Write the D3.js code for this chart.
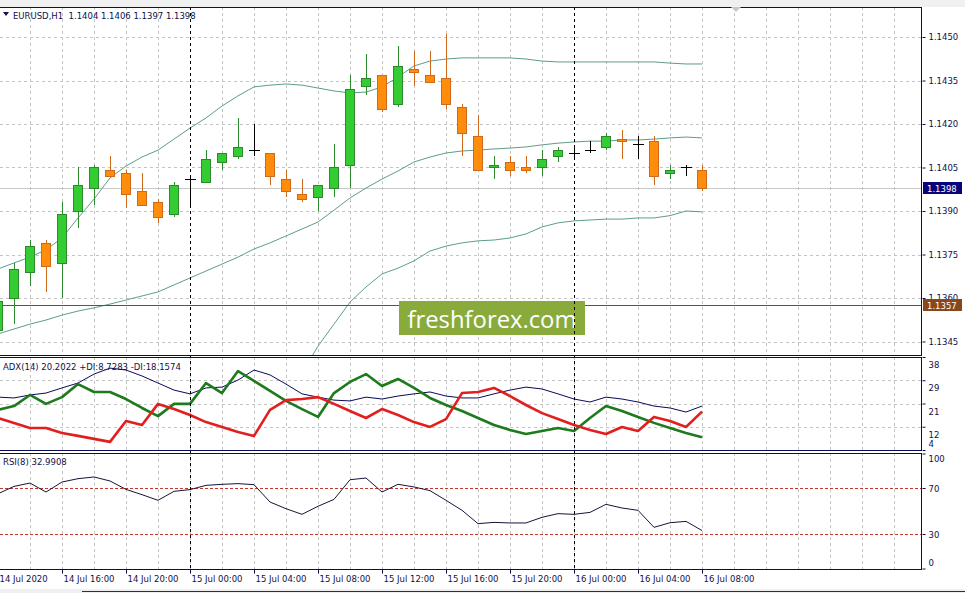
<!DOCTYPE html>
<html><head><meta charset="utf-8">
<script src="https://cdn.jsdelivr.net/npm/d3@7/dist/d3.min.js"></script>
<style>
body{margin:0;background:#fff;overflow:hidden}
svg text{font-family:"DejaVu Sans",sans-serif;font-size:8.5px;white-space:pre}
</style>
</head><body>
<svg id="c" width="965" height="593"></svg>
<script>
// ---------------- DATA (EURUSD H1, bars from 14 Jul 2020 12:00) ----------------
const opens  = [1.1349,1.1360,1.1369,1.1379,1.1372,1.1390,1.1398,1.1404,1.1403,1.1397,1.1393,1.1389,1.1401,1.1400,1.1407,1.1409,1.1411,1.1410,1.1401,1.1396,1.1395,1.1398,1.1406,1.1433,1.1437,1.1427,1.1439,1.1437,1.1436,1.1426,1.1416,1.1405,1.1407,1.1405,1.1405,1.1409,1.1410,1.1411,1.1412,1.1415,1.1413,1.1414,1.1403,1.1405,1.1404];
const highs  = [1.1360,1.1372,1.1380,1.1380,1.1393,1.1405,1.1406,1.1409,1.1404,1.1403,1.1394,1.1400,1.1402,1.1411,1.1410,1.1422,1.1420,1.1410,1.1404,1.1401,1.1399,1.1413,1.1437,1.1444,1.1437,1.1447,1.1445,1.1445,1.1451,1.1427,1.1423,1.1409,1.1409,1.1409,1.1411,1.1412,1.1412,1.1414,1.1417,1.1418,1.1416,1.1416,1.1406,1.1406,1.1406];
const lows   = [1.1348,1.1351,1.1364,1.1362,1.1360,1.1384,1.1392,1.1402,1.1391,1.1392,1.1386,1.1388,1.1391,1.1400,1.1404,1.1408,1.1409,1.1399,1.1395,1.1393,1.1390,1.1395,1.1398,1.1430,1.1424,1.1426,1.1433,1.1434,1.1425,1.1409,1.1404,1.1401,1.1402,1.1403,1.1402,1.1407,1.1408,1.1410,1.1411,1.1408,1.1408,1.1399,1.1401,1.1402,1.1397];
const closes = [1.1359,1.1370,1.1378,1.1371,1.1389,1.1399,1.1405,1.1402,1.1396,1.1392,1.1388,1.1399,1.1401,1.1408,1.1410,1.1412,1.1411,1.1402,1.1397,1.1394,1.1399,1.1405,1.1432,1.1436,1.1425,1.1440,1.1438,1.14345,1.1427,1.1417,1.1404,1.1406,1.1404,1.1404,1.1408,1.1411,1.1410,1.1411,1.1416,1.1414,1.1413,1.1402,1.1404,1.1405,1.1398];

const bbUpper  = [1.13700,1.13721,1.13741,1.13766,1.13807,1.13876,1.13941,1.14014,1.14055,1.14086,1.14110,1.14148,1.14186,1.14221,1.14262,1.14297,1.14328,1.14334,1.14338,1.14334,1.14324,1.14314,1.14307,1.14310,1.14328,1.14362,1.14400,1.14417,1.14424,1.14428,1.14428,1.14428,1.14428,1.14424,1.14417,1.14414,1.14414,1.14414,1.14414,1.14414,1.14414,1.14414,1.14410,1.14407,1.14407];
const bbMiddle = [1.13476,1.13493,1.13510,1.13524,1.13541,1.13555,1.13566,1.13579,1.13593,1.13607,1.13621,1.13645,1.13669,1.13693,1.13717,1.13741,1.13769,1.13790,1.13814,1.13838,1.13862,1.13903,1.13945,1.13979,1.14010,1.14038,1.14069,1.14086,1.14100,1.14107,1.14110,1.14114,1.14117,1.14121,1.14128,1.14134,1.14138,1.14141,1.14141,1.14145,1.14145,1.14148,1.14152,1.14155,1.14152];
const bbLower  = [1.13252,1.13265,1.13279,1.13282,1.13275,1.13234,1.13191,1.13144,1.13131,1.13128,1.13132,1.13142,1.13152,1.13165,1.13172,1.13185,1.13210,1.13246,1.13290,1.13342,1.13434,1.13510,1.13586,1.13638,1.13683,1.13703,1.13728,1.13762,1.13779,1.13790,1.13797,1.13800,1.13807,1.13821,1.13845,1.13859,1.13866,1.13869,1.13872,1.13872,1.13876,1.13876,1.13884,1.13900,1.13897];

const adxMain = [23.5,23.2,24.3,25.0,26.9,28.7,32.0,34.2,33.5,31.3,28.7,26.1,24.7,26.9,27.2,29.8,33.5,31.7,28.3,24.7,23.5,22.4,22.1,23.5,22.8,23.9,24.7,25.4,23.9,23.2,23.2,24.7,26.1,27.2,26.5,24.7,22.8,21.7,23.5,22.8,21.7,20.2,19.5,18.0,20.2022];
const plusDI  = [18.8,20.2,24.3,21.0,23.5,28.3,25.4,25.4,22.8,19.5,16.5,21.0,21.0,28.7,25.0,33.1,29.5,25.8,22.1,19.1,16.2,25.0,29.1,32.0,27.6,30.2,26.9,23.2,20.6,18.4,15.8,13.2,11.4,9.9,11.0,12.1,11.0,15.8,20.2,18.4,16.2,14.0,12.1,10.3,8.7283];
const minusDI = [15.8,14.0,12.1,12.1,10.3,9.2,8.1,7.0,14.7,13.2,21.0,19.1,16.9,14.3,12.5,10.6,9.2,18.8,22.4,22.8,23.5,21.0,18.4,15.8,19.1,16.9,14.3,12.5,15.4,25.0,25.4,26.9,23.9,20.6,17.6,15.4,13.2,11.4,9.9,12.5,11.0,16.2,14.7,12.5,18.1574];

const rsiValues = [65.0,71.4,74.3,66.5,75.2,78.1,79.6,76.1,68.8,64.2,59.3,67.1,68.6,72.3,73.2,73.8,72.9,57.8,52.0,47.1,54.1,60.1,77.2,78.7,66.5,73.2,70.9,67.7,59.3,50.6,39.0,40.1,39.6,39.6,44.5,47.7,47.1,48.8,55.8,52.6,50.6,35.8,39.8,41.0,32.9908];

const priceTicks  = [1.1450,1.1435,1.1420,1.1405,1.1390,1.1375,1.1360,1.1345];
const adxTicks    = [38.3,29.73,21.15,12.58,4.0];
const rsiTicks    = [100,70,30,0];
const rsiLevels   = [70,30];
const xTickLabels = ["14 Jul 2020","14 Jul 16:00","14 Jul 20:00","15 Jul 00:00","15 Jul 04:00","15 Jul 08:00","15 Jul 12:00","15 Jul 16:00","15 Jul 20:00","16 Jul 00:00","16 Jul 04:00","16 Jul 08:00"];
const bidPrice    = 1.1398;
const hLinePrice  = 1.13577;
const headerText  = "EURUSD,H1\u00a0\u00a01.1404 1.1406 1.1397 1.1398";
const adxLabel    = "ADX(14) 20.2022 +DI:8.7283 -DI:18.1574";
const rsiLabel    = "RSI(8) 32.9908";
const watermark   = "freshforex.com";

// ---------------- LAYOUT ----------------
const svg = d3.select("#c");
const textCol = "#10104a", frameCol = "#0c0c55", gridCol = "#c4c4c4";
const R = 922;
const P = {main:[7,355], adx:[357,450], rsi:[453,569]};

const t0 = Date.UTC(2020,6,14,12), HR = 3600e3;
const times = opens.map((_,i)=>new Date(t0+i*HR));
const x = d3.scaleUtc().domain([times[0], times[times.length-1]]).range([-2,702]);
const yMain = d3.scaleLinear().domain([1.1345,1.1450]).range([341.5,37]);
const yAdx  = d3.scaleLinear().domain([4,38.3]).range([450,357]);
const yRsi  = d3.scaleLinear().domain([0,100]).range([568.5,453.5]);
const px = d => Math.round(x(d));

// top / bottom strips
svg.append("rect").attr("x",0).attr("y",0).attr("width",965).attr("height",7).attr("fill","#f0f0f0");
svg.append("rect").attr("x",0).attr("y",589).attr("width",965).attr("height",4).attr("fill","#f0f0f0");
svg.append("line").attr("x1",82).attr("x2",965).attr("y1",591.5).attr("y2",591.5).attr("stroke","#303030");

// clip paths
const defs = svg.append("defs");
Object.entries(P).forEach(([k,[a,b]])=>{
  defs.append("clipPath").attr("id","clip-"+k).append("rect").attr("x",0).attr("y",a).attr("width",R).attr("height",b-a);
});

const gridTimes = d3.utcHour.every(2).range(times[0], new Date(t0+58*HR));
const dayTimes = d3.utcDay.range(times[0], new Date(t0+58*HR));

function panelBase(key){
  const [a,b] = P[key];
  const g = svg.append("g").attr("clip-path","url(#clip-"+key+")");
  g.selectAll(".vg").data(gridTimes).join("line")
    .attr("x1",d=>px(d)+0.5).attr("x2",d=>px(d)+0.5).attr("y1",a).attr("y2",b)
    .attr("stroke",gridCol).attr("stroke-dasharray","3,3");
  return g;
}

// ---- main panel ----
const gm = panelBase("main");
gm.selectAll(".hg").data(priceTicks).join("line")
  .attr("x1",0).attr("x2",R).attr("y1",d=>Math.round(yMain(d))+0.5).attr("y2",d=>Math.round(yMain(d))+0.5)
  .attr("stroke",gridCol).attr("stroke-dasharray","3,3");
gm.append("line").attr("x1",0).attr("x2",R).attr("y1",Math.round(yMain(bidPrice))+0.5).attr("y2",Math.round(yMain(bidPrice))+0.5)
  .attr("stroke","#c8c8c8");
[bbUpper,bbMiddle,bbLower].forEach(arr=>{
  gm.append("path").datum(arr)
    .attr("d",d3.line().x((d,i)=>x(times[i])).y(d=>yMain(d)))
    .attr("fill","none").attr("stroke","#5d9e86").attr("stroke-width",1);
});
gm.append("line").attr("x1",0).attr("x2",R).attr("y1",Math.round(yMain(hLinePrice))+0.5).attr("y2",Math.round(yMain(hLinePrice))+0.5)
  .attr("stroke","#7f4a22").attr("stroke-width",1);
const candles = gm.selectAll(".cd").data(opens.map((o,i)=>({t:times[i],o,h:highs[i],l:lows[i],c:closes[i]}))).join("g");
const edge = d => d.c>d.o ? "#2c8a2c" : (d.c<d.o ? "#cf6a1c" : "#000");
candles.append("line")
  .attr("x1",d=>px(d.t)+0.5).attr("x2",d=>px(d.t)+0.5)
  .attr("y1",d=>Math.round(yMain(d.h))).attr("y2",d=>Math.round(yMain(d.l)))
  .attr("stroke",edge);
candles.filter(d=>d.c!==d.o).append("rect")
  .attr("x",d=>px(d.t)-4.5)
  .attr("y",d=>Math.round(yMain(Math.max(d.o,d.c)))+0.5)
  .attr("width",9)
  .attr("height",d=>Math.max(1,Math.round(yMain(Math.min(d.o,d.c)))-Math.round(yMain(Math.max(d.o,d.c)))))
  .attr("fill",d=>d.c>d.o?"#33cc33":"#ff8c0a").attr("stroke",edge);
candles.filter(d=>d.c===d.o).append("line")
  .attr("x1",d=>px(d.t)-5).attr("x2",d=>px(d.t)+6)
  .attr("y1",d=>Math.round(yMain(d.o))+0.5).attr("y2",d=>Math.round(yMain(d.o))+0.5)
  .attr("stroke","#000");

// watermark
svg.append("rect").attr("x",399).attr("y",301).attr("width",186).attr("height",34).attr("fill","#8aab3b");
svg.append("text").attr("x",492).attr("y",327.5).attr("text-anchor","middle")
  .attr("textLength",169).attr("lengthAdjust","spacingAndGlyphs")
  .style("font-family","'Open Sans','DejaVu Sans',sans-serif").style("font-size","24px").attr("fill","#fff").text(watermark);

// ---- ADX panel ----
const ga = panelBase("adx");
ga.selectAll(".hg").data(adxTicks.slice(1,-1)).join("line")
  .attr("x1",0).attr("x2",R).attr("y1",d=>Math.round(yAdx(d))+0.5).attr("y2",d=>Math.round(yAdx(d))+0.5)
  .attr("stroke",gridCol).attr("stroke-dasharray","3,3");
[[adxMain,"#0a0a5a",1],[plusDI,"#1d7a1d",2.6],[minusDI,"#e11f1f",2.6]].forEach(([arr,col,w])=>{
  ga.append("path").datum(arr)
    .attr("d",d3.line().x((d,i)=>x(times[i])).y(d=>yAdx(d)))
    .attr("fill","none").attr("stroke",col).attr("stroke-width",w).attr("stroke-linejoin","round");
});

// ---- RSI panel ----
const gr = panelBase("rsi");
gr.selectAll(".lv").data(rsiLevels).join("line")
  .attr("x1",0).attr("x2",R).attr("y1",d=>Math.round(yRsi(d))+0.5).attr("y2",d=>Math.round(yRsi(d))+0.5)
  .attr("stroke","#c0392b").attr("stroke-dasharray","3,2");
gr.append("path").datum(rsiValues)
  .attr("d",d3.line().x((d,i)=>x(times[i])).y(d=>yRsi(d)))
  .attr("fill","none").attr("stroke","#15153a").attr("stroke-width",1);

// day separators over all panels
svg.selectAll(".sep").data(dayTimes).join("line")
  .attr("x1",d=>px(d)+0.5).attr("x2",d=>px(d)+0.5).attr("y1",P.main[0]).attr("y2",P.rsi[1])
  .attr("stroke","#000").attr("stroke-dasharray","3,3");

// frames
Object.values(P).forEach(([a,b])=>{
  svg.append("rect").attr("x",-1.5).attr("y",a+0.5).attr("width",R+1).attr("height",b-a)
    .attr("fill","none").attr("stroke",frameCol);
});

// ---- axes ----
function styleAxis(g){
  g.select(".domain").remove();
  g.selectAll("line").attr("stroke",frameCol);
  g.selectAll("text").attr("fill",textCol).style("font-family","'DejaVu Sans',sans-serif").style("font-size","8.5px");
}
const axP = svg.append("g").attr("transform",`translate(${R+0.5},0)`)
  .call(d3.axisRight(yMain).tickValues(priceTicks).tickFormat(d3.format(".4f")).tickSize(3).tickPadding(3));
styleAxis(axP);

const axA = svg.append("g").attr("transform",`translate(${R+0.5},0)`)
  .call(d3.axisRight(yAdx).tickValues(adxTicks).tickFormat(d=>String(Math.floor(d))).tickSize(3).tickPadding(3));
styleAxis(axA);
axA.selectAll("text").attr("dy",(d,i)=> i===adxTicks.length-1 ? "-0.4em" : "1.25em");

const axR = svg.append("g").attr("transform",`translate(${R+0.5},0)`)
  .call(d3.axisRight(yRsi).tickValues(rsiTicks).tickFormat(d3.format("d")).tickSize(3).tickPadding(3));
styleAxis(axR);
axR.selectAll("text").attr("dy",(d,i)=> ["0.95em","0.4em","0.4em","-0.35em"][i]);

// price labels (horizontal line and bid)
function priceBox(v, fill, label){
  const yy = Math.round(yMain(v));
  svg.append("rect").attr("x",923).attr("y",yy-6).attr("width",39).attr("height",12).attr("fill",fill);
  svg.append("text").attr("x",927).attr("y",yy+3.5).attr("fill","#fff").text(label);
}
priceBox(hLinePrice,"#86481c",(Math.floor(hLinePrice*1e4)/1e4).toFixed(4));
priceBox(bidPrice,"#06067a",d3.format(".4f")(bidPrice));

// time axis
const xTickTimes = d3.utcHour.every(4).range(times[0], new Date(+times[times.length-1]+1));
const axX = svg.append("g").attr("transform",`translate(0,${P.rsi[1]+0.5})`)
  .call(d3.axisBottom(x).tickValues(xTickTimes).tickFormat((d,i)=>xTickLabels[i]).tickSize(4).tickPadding(2));
styleAxis(axX);
axX.selectAll("text").attr("text-anchor","start").attr("x",1).attr("y",6);

// header + indicator labels
svg.append("path").attr("d","M3,12L9,12L6,16Z").attr("fill",textCol);
svg.append("text").attr("x",13).attr("y",18.5).attr("fill",textCol).text(headerText);
svg.append("text").attr("x",3).attr("y",370).attr("fill",textCol).text(adxLabel);
svg.append("text").attr("x",3).attr("y",465).attr("fill",textCol).text(rsiLabel);
svg.append("path").attr("d","M731,7L741,7L736,12Z").attr("fill","#c8c8c8");
</script>
</body></html>
